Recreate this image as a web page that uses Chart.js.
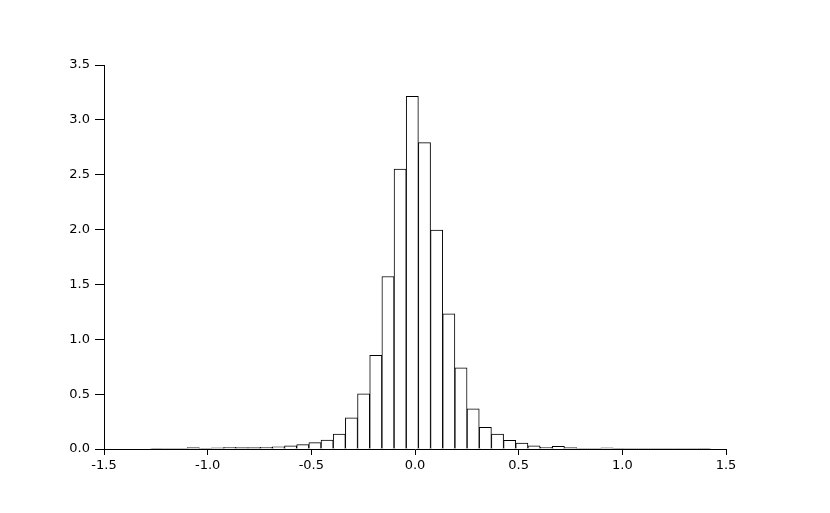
<!DOCTYPE html>
<html>
<head>
<meta charset="utf-8">
<script src="https://cdn.jsdelivr.net/npm/chart.js@4/dist/chart.umd.min.js"></script>
<style>
  html, body { margin: 0; padding: 0; background: #fff; }
  #wrap { width: 830px; height: 513px; }
</style>
</head>
<body>
<div id="wrap"><canvas id="histChart" width="830" height="513"></canvas></div>
<script>
// centros dos intervalos (bins) do histograma
const binCenters = [
  -1.2457, -1.1870, -1.1283, -1.0696, -1.0109, -0.9522, -0.8935, -0.8348,
  -0.7761, -0.7174, -0.6587, -0.6000, -0.5413, -0.4826, -0.4239, -0.3652,
  -0.3065, -0.2478, -0.1891, -0.1304, -0.0717, -0.0130, 0.0457, 0.1044,
  0.1631, 0.2218, 0.2805, 0.3392, 0.3979, 0.4566, 0.5153, 0.5740,
  0.6327, 0.6914, 0.7501, 0.8088, 0.8675, 0.9262, 0.9849, 1.0436,
  1.1023, 1.1610, 1.2197, 1.2784, 1.3371, 1.3958
];
// densidade de cada bin
const density = [
  0.005, 0.002, 0.006, 0.012, 0.005, 0.010, 0.015, 0.012,
  0.012, 0.015, 0.020, 0.030, 0.040, 0.058, 0.082, 0.137,
  0.283, 0.502, 0.854, 1.572, 2.551, 3.214, 2.792, 1.995,
  1.232, 0.739, 0.365, 0.197, 0.137, 0.080, 0.055, 0.030,
  0.015, 0.025, 0.012, 0.006, 0.006, 0.010, 0.004, 0.003,
  0.003, 0.002, 0.002, 0.002, 0.003, 0.005
];
const xTicks = [-1.5, -1.0, -0.5, 0.0, 0.5, 1.0, 1.5];
const yTicks = [0.0, 0.5, 1.0, 1.5, 2.0, 2.5, 3.0, 3.5];

const points = binCenters.map(function (c, i) { return { x: c, y: density[i] }; });

window.onload = function () {
  var ctx = document.getElementById('histChart').getContext('2d');
  new Chart(ctx, {
    type: 'bar',
    data: {
      datasets: [{
        data: points,
        backgroundColor: '#ffffff',
        borderColor: '#000000',
        borderWidth: 1,
        barPercentage: 1.0,
        categoryPercentage: 1.0
      }]
    },
    options: {
      responsive: false,
      animation: false,
      events: [],
      layout: { padding: { top: 65, right: 104, left: 0, bottom: 0 } },
      plugins: { legend: { display: false }, tooltip: { enabled: false } },
      scales: {
        x: {
          type: 'linear',
          offset: false,
          min: -1.5,
          max: 1.5,
          afterBuildTicks: function (axis) { axis.ticks = xTicks.map(function (v) { return { value: v }; }); },
          afterFit: function (axis) { axis.height = 64; },
          ticks: {
            color: '#000',
            padding: 3,
            maxRotation: 0,
            font: { family: 'DejaVu Sans', size: 13 },
            callback: function (v) { return v.toFixed(1); }
          },
          grid: { offset: false, drawOnChartArea: false, drawTicks: true, tickLength: 6, color: '#000' },
          border: { color: '#000', width: 1 }
        },
        y: {
          min: 0,
          max: 3.5,
          afterBuildTicks: function (axis) { axis.ticks = yTicks.map(function (v) { return { value: v }; }); },
          afterFit: function (axis) { axis.width = 104; },
          ticks: {
            color: '#000',
            padding: 5,
            font: { family: 'DejaVu Sans', size: 13 },
            callback: function (v) { return v.toFixed(1); }
          },
          grid: { drawOnChartArea: false, drawTicks: true, tickLength: 9, color: '#000' },
          border: { color: '#000', width: 1 }
        }
      }
    }
  });
};
</script>
</body>
</html>
